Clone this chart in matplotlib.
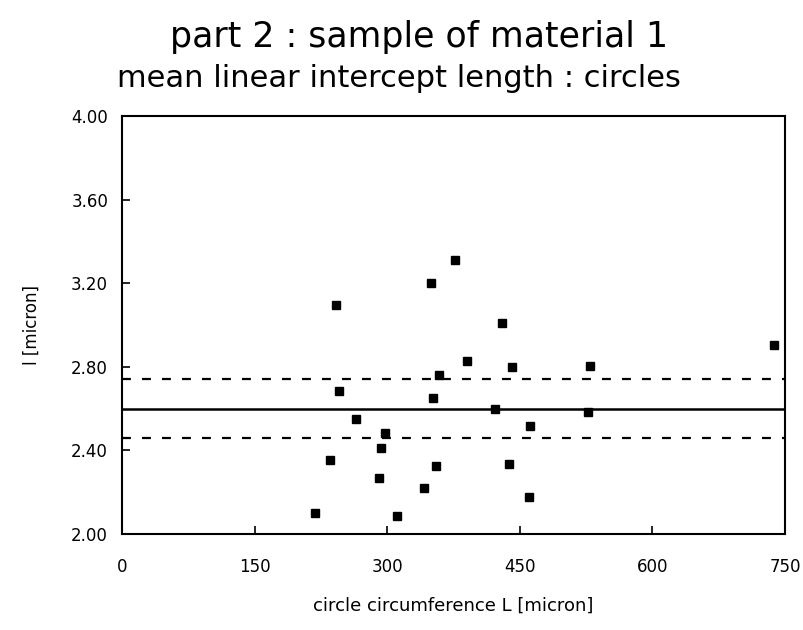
import matplotlib

matplotlib.use("Agg")

import matplotlib.pyplot as plt

# circle circumference L [micron] and mean linear intercept l [micron]
circumference = [
    241.7, 245.4, 264.7, 298.0, 292.6, 235.2, 290.7, 218.7, 310.8,
    376.4, 349.3, 430.4, 390.3, 441.7, 529.6, 359.1, 351.8, 422.0,
    526.6, 462.1, 737.5, 354.9, 341.3, 437.9, 460.5,
]
intercept = [
    3.094, 2.682, 2.551, 2.482, 2.411, 2.352, 2.270, 2.101, 2.087,
    3.310, 3.201, 3.008, 2.827, 2.800, 2.806, 2.760, 2.651, 2.599,
    2.586, 2.519, 2.903, 2.327, 2.218, 2.337, 2.176,
]
mean_value = 2.60
band_upper = 2.74
band_lower = 2.46

x_ticks = [0, 150, 300, 450, 600, 750]
y_ticks = [2.00, 2.40, 2.80, 3.20, 3.60, 4.00]

plt.rcParams["font.family"] = ["DejaVu Sans"]

fig = plt.figure(figsize=(8.04, 6.30), dpi=100)
axis = fig.add_axes([0.1517, 0.1524, 0.8247, 0.6635])

axis.axhline(mean_value, color="black", linewidth=1.8)
for level in (band_upper, band_lower):
    axis.axhline(level, color="black", linewidth=1.6, linestyle=(0, (4, 5)))

axis.plot(circumference, intercept, linestyle="none", marker="s",
          markersize=6, color="black")

axis.set_xlim(0, 750)
axis.set_ylim(2.0, 4.0)
axis.set_xticks(x_ticks)
axis.set_xticklabels([str(t) for t in x_ticks])
axis.set_yticks(y_ticks)
axis.set_yticklabels([f"{t:.2f}" for t in y_ticks])
axis.tick_params(direction="in", length=6, width=1.2, labelsize=12)
axis.tick_params(axis="x", pad=17)
axis.tick_params(axis="y", pad=10)
for spine in axis.spines.values():
    spine.set_linewidth(1.5)

axis.set_xlabel("circle circumference L [micron]", fontsize=13, labelpad=15)
axis.set_ylabel("l [micron]", fontsize=12, labelpad=22)

fig.text(0.521, 0.942, "part 2 : sample of material 1", ha="center",
         va="center", fontsize=25)
fig.text(0.496, 0.875, "mean linear intercept length : circles",
         ha="center", va="center", fontsize=22)

fig.savefig("out.png", dpi=100)
plt.close(fig)
